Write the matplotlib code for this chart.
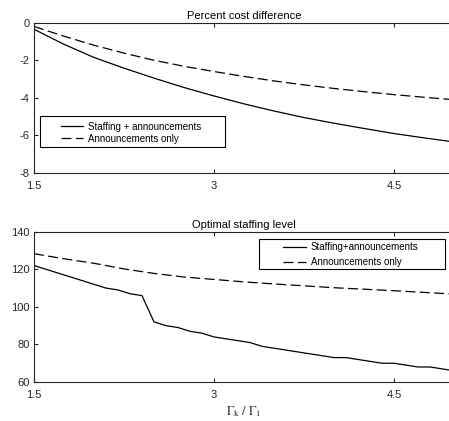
import matplotlib
matplotlib.use("Agg")
import matplotlib.pyplot as plt
from matplotlib.patches import Rectangle

plt.rcParams['font.family'] = ['Liberation Sans', 'DejaVu Sans']
plt.rcParams['axes.unicode_minus'] = False
plt.rcParams['mathtext.fontset'] = 'stix'

# Percent cost difference vs. Gamma_k / Gamma_1
ratio_cost = [1.5, 1.75, 2.0, 2.25, 2.5, 2.75, 3.0, 3.25, 3.5, 3.75, 4.0, 4.25, 4.5, 4.75, 5.0]
cost_staff_ann = [-0.35, -1.15, -1.85, -2.42, -2.95, -3.45, -3.9, -4.32, -4.7, -5.05,
                  -5.35, -5.63, -5.9, -6.13, -6.35]
cost_ann_only = [-0.2, -0.72, -1.2, -1.62, -2.0, -2.32, -2.6, -2.86, -3.1, -3.31,
                 -3.5, -3.67, -3.83, -3.97, -4.1]

# Optimal staffing level
ratio_staff = [1.5, 1.6, 1.7, 1.8, 1.9, 2.0, 2.1, 2.2, 2.3, 2.4, 2.5, 2.6, 2.7, 2.8, 2.9, 3.0,
               3.1, 3.2, 3.3, 3.4, 3.5, 3.6, 3.7, 3.8, 3.9, 4.0, 4.1, 4.2, 4.3, 4.4, 4.5,
               4.6, 4.7, 4.8, 4.9, 5.0]
staff_staff_ann = [122, 120, 118, 116, 114, 112, 110, 109, 107, 106, 92, 90, 89, 87, 86, 84,
                   83, 82, 81, 79, 78, 77, 76, 75, 74, 73, 73, 72, 71, 70, 70,
                   69, 68, 68, 67, 66]
ratio_staff_ann = [1.5, 1.75, 2.0, 2.25, 2.5, 2.75, 3.0, 3.25, 3.5, 3.75, 4.0, 4.25, 4.5, 4.75, 5.0]
staff_ann_only = [128.3, 125.6, 123.2, 120.2, 117.8, 115.9, 114.6, 113.3, 112.2, 111.2,
                  110.2, 109.4, 108.6, 107.7, 106.8]

xticks = [1.5, 3, 4.5]
xticklabels = ['1.5', '3', '4.5']

AXC = '#262626'
LW = 0.9
DASH = (0, (8, 3.5))

fig = plt.figure(figsize=(4.49, 4.21), dpi=100)
ax1 = fig.add_axes([0.0757, 0.5891, 0.9354, 0.357])
ax2 = fig.add_axes([0.0757, 0.0926, 0.9354, 0.357])


def style_axes(ax):
    for s in ax.spines.values():
        s.set_color(AXC)
        s.set_linewidth(0.8)
    ax.tick_params(direction='in', length=2.6, width=0.8, color=AXC, labelcolor=AXC,
                   labelsize=8, top=True, right=True, pad=3)
    ax.tick_params(axis='x', pad=5.5)
    ax.set_xlim(1.5, 5)
    ax.set_xticks(xticks)
    ax.set_xticklabels(xticklabels)


# top panel
l1, = ax1.plot(ratio_cost, cost_staff_ann, color='k', lw=LW)
l2, = ax1.plot(ratio_cost, cost_ann_only, color='k', lw=LW, linestyle=DASH)
style_axes(ax1)
ax1.set_ylim(-8, 0)
ax1.set_yticks([0, -2, -4, -6, -8])
ax1.set_title('Percent cost difference', fontsize=8, pad=3)
ax1.add_patch(Rectangle((0.0143, 0.175), 0.441, 0.204, transform=ax1.transAxes,
                        fill=False, edgecolor='k', lw=0.8, zorder=5))
ax1.legend([l1, l2], ['Staffing + announcements', 'Announcements only'],
           loc='upper left', bbox_to_anchor=(0.064, 0.342), frameon=False,
           fontsize=7, borderpad=0, borderaxespad=0, handlelength=2.3,
           handletextpad=0.5, labelspacing=0.22)

# bottom panel
l3, = ax2.plot(ratio_staff, staff_staff_ann, color='k', lw=LW)
l4, = ax2.plot(ratio_staff_ann, staff_ann_only, color='k', lw=LW, linestyle=DASH)
style_axes(ax2)
ax2.set_ylim(60, 140)
ax2.set_yticks([60, 80, 100, 120, 140])
ax2.set_title('Optimal staffing level', fontsize=8, pad=3)
ax2.add_patch(Rectangle((0.5364, 0.7498), 0.4414, 0.1996, transform=ax2.transAxes,
                        fill=False, edgecolor='k', lw=0.8, zorder=5))
ax2.legend([l3, l4], ['Staffing+announcements', 'Announcements only'],
           loc='upper left', bbox_to_anchor=(0.5936, 0.93), frameon=False,
           fontsize=7, borderpad=0, borderaxespad=0, handlelength=2.3,
           handletextpad=0.5, labelspacing=0.5)
ax2.set_xlabel(r'$\Gamma_{\mathrm{k}}\ /\ \Gamma_{\mathrm{1}}$', fontsize=9, color=AXC, labelpad=3)

fig.savefig('out.png', dpi=100)
